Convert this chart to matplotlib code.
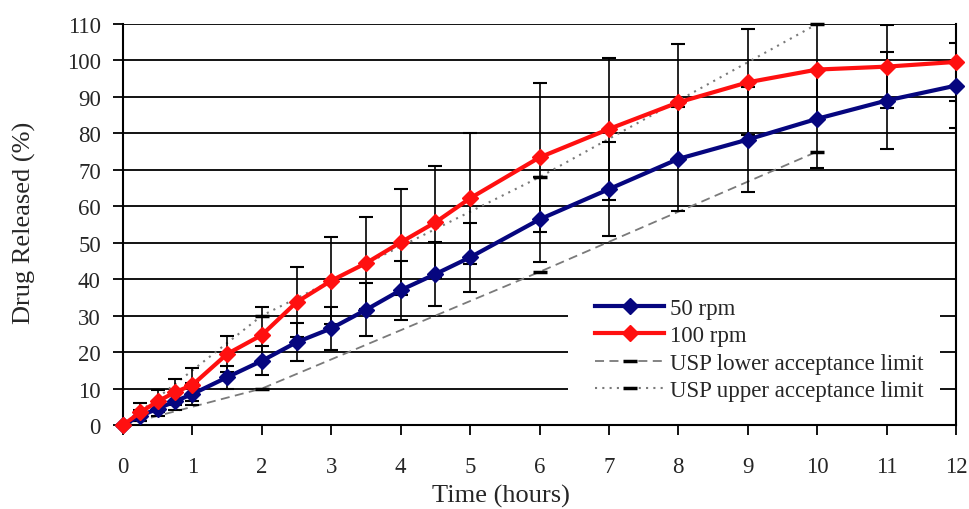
import matplotlib
matplotlib.use("Agg")
import matplotlib.pyplot as plt
from matplotlib.patches import Rectangle

# sampling times (hours)
hours = [0, 0.25, 0.5, 0.75, 1, 1.5, 2, 2.5, 3, 3.5, 4, 4.5, 5, 6, 7, 8, 9, 10, 11, 12]

# mean release (%) and SD
rpm50 = [0, 2.5, 4.5, 6.5, 8.5, 13.1, 17.6, 22.7, 26.5, 31.6, 37.0, 41.4, 46.0,
         56.4, 64.7, 73.0, 78.3, 84.0, 89.0, 93.1]
rpm50_sd = [0, 1.5, 2, 2.5, 3, 3.2, 4.0, 5.2, 6.0, 7.3, 8.1, 8.7, 9.4,
            11.7, 12.9, 14.2, 14.3, 13.5, 13.2, 11.6]
rpm100 = [0, 3.5, 6.5, 9.0, 11.0, 19.5, 24.7, 33.7, 39.6, 44.4, 50.1, 55.6, 62.2,
          73.4, 81.2, 88.5, 94.0, 97.5, 98.3, 99.6]
rpm100_sd = [0, 2.5, 3, 3.5, 4.5, 5.0, 7.6, 9.6, 11.9, 12.6, 14.5, 15.4, 17.9,
             20.4, 19.4, 16.0, 14.5, 13.5, 11.4, 10.8]

# USP acceptance limits
usp_hours = [0, 2, 6, 10]
usp_lower = [0, 10, 42, 75]
usp_upper = [0, 30, 68, 110]

plt.rcParams['font.family'] = ['Liberation Serif', 'DejaVu Serif']
txt = '#262626'

fig = plt.figure(figsize=(9.69, 5.10), dpi=100)
ax = fig.add_axes([0.127, 0.1647, 0.8596, 0.7863])

ax.yaxis.grid(True, color='black', lw=1.3, zorder=0)
ax.set_axisbelow(True)

ax.plot(usp_hours, usp_lower, color='#7a7a7a', lw=1.3, ls=(0, (5, 3)),
        marker='_', mec='black', ms=10, mew=2.5, zorder=2, clip_on=False,
        label='USP lower acceptance limit')
ax.plot(usp_hours, usp_upper, color='#7a7a7a', lw=1.5, ls=(0, (1, 2.5)),
        marker='_', mec='black', ms=10, mew=2.5, zorder=2, clip_on=False,
        label='USP upper acceptance limit')

ax.errorbar(hours, rpm50, yerr=rpm50_sd, fmt='none', ecolor='black',
            elinewidth=1.2, capsize=5, capthick=1.5, zorder=3)
ax.errorbar(hours, rpm100, yerr=rpm100_sd, fmt='none', ecolor='black',
            elinewidth=1.2, capsize=5, capthick=1.5, zorder=3)

ax.plot(hours, rpm50, color='#06067f', lw=3, marker='D', ms=8.5, zorder=4,
        clip_on=False, label='50 rpm')
ax.plot(hours, rpm100, color='#ff1010', lw=3, marker='D', ms=8.5, zorder=5,
        clip_on=False, label='100 rpm')

ax.set_xlim(0, 12)
ax.set_ylim(0, 110)
ax.set_xticks(range(0, 13))
ax.set_yticks(range(0, 111, 10))
ax.tick_params(axis='both', labelsize=16.5, colors='black', labelcolor=txt,
               width=1.3)
ax.tick_params(axis='y', length=7, pad=9)
ax.tick_params(axis='x', length=7, pad=15)
for side in ['left', 'bottom', 'right']:
    ax.spines[side].set_linewidth(1.5)
ax.spines['top'].set_visible(False)

ax.set_xlabel('Time (hours)', fontsize=19, color=txt, va='center')
ax.xaxis.set_label_coords(0.454, -0.175)
ax.set_ylabel('Drug Released (%)', fontsize=19, color=txt, va='center')
ax.yaxis.set_label_coords(-0.118, 0.506)

# white panel behind the legend hides the lower gridlines
ax.add_patch(Rectangle((0.534, 0.052), 0.447, 0.305, transform=ax.transAxes,
                       facecolor='white', edgecolor='none', zorder=1))

handles, labels = ax.get_legend_handles_labels()
order = [2, 3, 0, 1]
leg = ax.legend([handles[i] for i in order], [labels[i] for i in order],
                loc='upper left', bbox_to_anchor=(0.567, 0.317),
                fontsize=16.5, frameon=False, handlelength=3.0,
                handletextpad=0.25, labelspacing=0.28, borderpad=0,
                borderaxespad=0)
for t in leg.get_texts():
    t.set_color(txt)
leg.set_zorder(6)

fig.savefig('out.png', dpi=100)
